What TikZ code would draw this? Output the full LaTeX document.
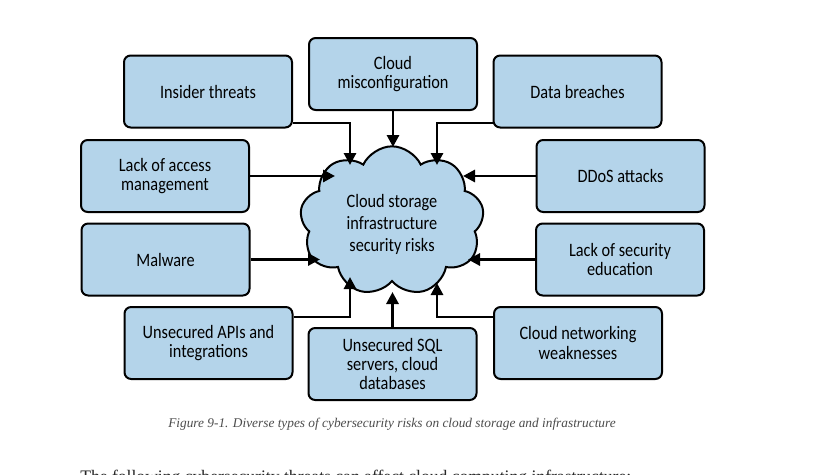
\documentclass[tikz,border=0pt]{standalone}
\usepackage{fontspec}
\setmainfont{Carlito}[FakeStretch=0.86]
\newfontfamily\capfont{Liberation Serif}
\usetikzlibrary{shapes.symbols,arrows.meta}
\definecolor{riskblue}{RGB}{180,212,234}
\tikzset{
  risk/.style={draw=black, fill=riskblue, line width=1.5pt, rounded corners=5pt,
    minimum width=126pt, minimum height=54pt, inner sep=2pt, align=center,
    font=\fontsize{14.2}{14.5}\selectfont},
  feed/.style={line width=2.2pt, -{Triangle[length=9pt,width=9pt]}},
}
\begin{document}
\begin{tikzpicture}[x=0.75pt, y=-0.75pt]
   \useasboundingbox[fill=white] (0,0) rectangle (833,475);

   % the cloud in the middle
   \node[cloud, draw=black, fill=riskblue, line width=1.5pt, cloud puffs=9,
     cloud puff arc=130, aspect=1.25, minimum width=138pt, minimum height=112pt,
     inner sep=0pt] (cl) at (392,221) {};
   \node[font=\fontsize{14.2}{16.5}\selectfont, align=center] (risk) at (392,224)
     {Cloud storage\\infrastructure\\security risks};

   % risk boxes
   \node[risk] (mis) at (393,74) {Cloud\\misconfiguration};
   \node[risk] (ins) at (208,91.5) {Insider threats};
   \node[risk] (dat) at (577.5,91.5) {Data breaches};
   \node[risk] (acc) at (165,176) {Lack of access\\management};
   \node[risk] (dds) at (620.5,176) {DDoS attacks};
   \node[risk] (mal) at (165.5,259.5) {Malware};
   \node[risk] (edu) at (620,259.5) {Lack of security\\education};
   \node[risk] (api) at (208.5,343) {Unsecured APIs and\\integrations};
   \node[risk] (net) at (578,343) {Cloud networking\\weaknesses};
   \node[risk] (sql) at (392.5,364) {Unsecured SQL\\servers, cloud\\databases};

   % where the arrows meet the cloud
   \coordinate (tl) at (350,165);
   \coordinate (tm) at (393,147);
   \coordinate (tr) at (437,165);
   \coordinate (lu) at (335,176);
   \coordinate (ru) at (463,176);
   \coordinate (ll) at (320,259.5);
   \coordinate (rl) at (468,259.5);
   \coordinate (bl) at (350,277);
   \coordinate (bm) at (392.5,292);
   \coordinate (br) at (437,283);

   \draw[feed] ([yshift=-23.6pt]ins.east) -| (tl);
   \draw[feed] (mis.south) -- (tm);
   \draw[feed] ([yshift=-23.6pt]dat.west) -| (tr);
   \draw[feed] (acc.east) -- (lu);
   \draw[feed] (dds.west) -- (ru);
   \draw[feed] (mal.east) -- (ll);
   \draw[feed] (edu.west) -- (rl);
   \draw[feed] ([yshift=19.5pt]api.east) -| (bl);
   \draw[feed] (sql.north) -- (bm);
   \draw[feed] ([yshift=19.5pt]net.west) -| (br);

   \node[font=\capfont\itshape\fontsize{10}{12}\selectfont, text=black!70] (cap) at (392,424)
     {Figure 9-1. Diverse types of cybersecurity risks on cloud storage and infrastructure};
   \node[anchor=base west, inner sep=0pt, font=\capfont\fontsize{13.2}{15}\selectfont, text=black!85] (next) at (80,482)
     {The following cybersecurity threats can affect cloud computing infrastructure:};
\end{tikzpicture}
\end{document}
